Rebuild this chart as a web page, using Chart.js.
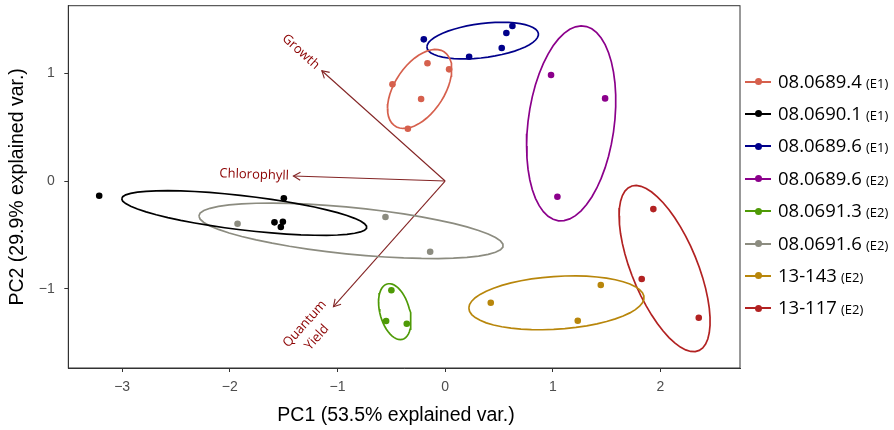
<!DOCTYPE html>
<html><head><meta charset="utf-8">
<script src="https://cdn.jsdelivr.net/npm/chart.js@4.4.1/dist/chart.umd.min.js"></script>
<style>
html,body{margin:0;padding:0;background:#fff;overflow:hidden}
#wrap{position:relative;width:894px;height:430px}
#c{position:absolute;left:0;top:0}
.item{position:absolute;left:745px;height:24px;display:flex;align-items:center;white-space:nowrap}
.sw{position:relative;width:26px;height:24px;flex:none}
.sw .ln{position:absolute;left:0;top:11px;width:26px;height:2px}
.sw .dt{position:absolute;left:9.5px;top:8.5px;width:7px;height:7px;border-radius:50%}
.lbl{margin-left:7px;font-family:'Open Sans',sans-serif;line-height:24px;color:#000}
.lbl .m{font-size:18.5px}
.lbl .s{font-size:13px}
</style></head><body>
<div id="wrap"><canvas id="c" width="894" height="430"></canvas><div id="legend"></div></div>
<script>
// ---- data ----
const groupNames = ['08.0689.4','08.0690.1','08.0689.6','08.0689.6','08.0691.3','08.0691.6','13-143','13-117'];
const groupTags  = ['(E1)','(E1)','(E1)','(E2)','(E2)','(E2)','(E2)','(E2)'];
const groupColors = ['#D6604D','#000000','#00008B','#8B008B','#4E9A06','#8C8C80','#B8860B','#B22222'];

const pc1_08_0689_4_E1 = [-0.164, 0.037, -0.489, -0.223, -0.346];
const pc2_08_0689_4_E1 = [1.091, 1.035, 0.896, 0.760, 0.485];
const pc1_08_0690_1_E1 = [-3.213, -1.498, -1.585, -1.507, -1.526];
const pc2_08_0690_1_E1 = [-0.136, -0.160, -0.383, -0.377, -0.426];
const pc1_08_0689_6_E1 = [-0.198, 0.625, 0.569, 0.526, 0.223];
const pc2_08_0689_6_E1 = [1.313, 1.437, 1.372, 1.233, 1.152];
const pc1_08_0689_6_E2 = [0.984, 1.486, 1.043];
const pc2_08_0689_6_E2 = [0.982, 0.766, -0.146];
const pc1_08_0691_3_E2 = [-0.499, -0.548, -0.356];
const pc2_08_0691_3_E2 = [-1.013, -1.297, -1.323];
const pc1_08_0691_6_E2 = [-1.928, -0.554, -0.139];
const pc2_08_0691_6_E2 = [-0.396, -0.334, -0.655];
const pc1_13_143_E2 = [0.424, 1.446, 1.232];
const pc2_13_143_E2 = [-1.128, -0.964, -1.295];
const pc1_13_117_E2 = [1.934, 1.826, 2.356];
const pc2_13_117_E2 = [-0.260, -0.908, -1.267];

const groupPC1 = [pc1_08_0689_4_E1, pc1_08_0690_1_E1, pc1_08_0689_6_E1, pc1_08_0689_6_E2, pc1_08_0691_3_E2, pc1_08_0691_6_E2, pc1_13_143_E2, pc1_13_117_E2];
const groupPC2 = [pc2_08_0689_4_E1, pc2_08_0690_1_E1, pc2_08_0689_6_E1, pc2_08_0689_6_E2, pc2_08_0691_3_E2, pc2_08_0691_6_E2, pc2_13_143_E2, pc2_13_117_E2];

// variable loadings (arrow tips)
const varNames = ['Growth', 'Chlorophyll', 'Quantum\nYield'];
const varPC1 = [-1.145, -1.409, -1.037];
const varPC2 = [1.022, 0.046, -1.165];

const xTicks = [-3, -2, -1, 0, 1, 2];
const yTicks = [-1, 0, 1];
const xTitle = 'PC1 (53.5% explained var.)';
const yTitle = 'PC2 (29.9% explained var.)';
const ellipseProb = 0.68;

// ---- helpers ----
function ellipsePath(xs, ys, prob) {
  const n = xs.length;
  const mx = xs.reduce((a, b) => a + b, 0) / n;
  const my = ys.reduce((a, b) => a + b, 0) / n;
  let sxx = 0, syy = 0, sxy = 0;
  for (let i = 0; i < n; i++) {
    const dx = xs[i] - mx, dy = ys[i] - my;
    sxx += dx * dx; syy += dy * dy; sxy += dx * dy;
  }
  sxx /= (n - 1); syy /= (n - 1); sxy /= (n - 1);
  const r11 = Math.sqrt(sxx), r12 = sxy / r11, r22 = Math.sqrt(Math.max(syy - r12 * r12, 0));
  const ed = Math.sqrt(-2 * Math.log(1 - prob));
  const pts = [];
  for (let k = 0; k < 50; k++) {
    const t = -Math.PI + 2 * Math.PI * k / 49;
    const c = Math.cos(t), s = Math.sin(t);
    pts.push({ x: mx + ed * c * r11, y: my + ed * (c * r12 + s * r22) });
  }
  return pts;
}
const fmt = v => (v < 0 ? '\u2212' + Math.abs(v) : String(v));

// ---- datasets ----
const datasets = [];
groupNames.forEach((g, i) => {
  datasets.push({
    label: g + ' ellipse', data: ellipsePath(groupPC1[i], groupPC2[i], ellipseProb),
    showLine: true, pointRadius: 0, borderColor: groupColors[i], borderWidth: 1.7, tension: 0, fill: false
  });
});
groupNames.forEach((g, i) => {
  datasets.push({
    label: g + ' ' + groupTags[i], data: groupPC1[i].map((x, k) => ({ x, y: groupPC2[i][k] })),
    showLine: false, pointRadius: 3.3, pointBackgroundColor: groupColors[i], pointBorderWidth: 0,
    borderColor: groupColors[i]
  });
});
varNames.forEach((v, i) => {
  datasets.push({
    label: v, data: [{ x: 0, y: 0 }, { x: varPC1[i], y: varPC2[i] }],
    showLine: true, pointRadius: 0, borderColor: '#832424', borderWidth: 1.1, fill: false, tension: 0
  });
});

// label placement style (pixel offsets along/perpendicular to arrow)
const labelStyle = [
  { align: 'right', lines: [{ u: -5.7, v: 0 }] },
  { align: 'right', lines: [{ u: -4.6, v: 0 }] },
  { align: 'center', lines: [{ u: -32, v: -10 }, { u: -34, v: 8 }] }
];

const overlay = {
  id: 'overlay',
  afterDatasetsDraw(chart) {
    const { ctx, scales: { x, y } } = chart;
    const ox = x.getPixelForValue(0), oy = y.getPixelForValue(0);
    ctx.save();
    varNames.forEach((name, i) => {
      const tx = x.getPixelForValue(varPC1[i]), ty = y.getPixelForValue(varPC2[i]);
      const a = Math.atan2(ty - oy, tx - ox);
      const L = 8, h = Math.PI / 6;
      ctx.strokeStyle = '#832424'; ctx.lineWidth = 1.1;
      ctx.beginPath();
      ctx.moveTo(tx - L * Math.cos(a - h), ty - L * Math.sin(a - h));
      ctx.lineTo(tx, ty);
      ctx.lineTo(tx - L * Math.cos(a + h), ty - L * Math.sin(a + h));
      ctx.stroke();
      const d = Math.hypot(ox - tx, oy - ty);
      const ux = (ox - tx) / d, uy = (oy - ty) / d;
      const vx = -uy, vy = ux;
      const rot = Math.atan2(uy, ux);
      const parts = name.split('\n');
      ctx.fillStyle = '#8B0000';
      ctx.font = '13px "Open Sans"';
      ctx.textBaseline = 'middle';
      ctx.textAlign = labelStyle[i].align;
      parts.forEach((p, k) => {
        const st = labelStyle[i].lines[k];
        const px = tx + st.u * ux + st.v * vx, py = ty + st.u * uy + st.v * vy;
        ctx.save();
        ctx.translate(px, py);
        ctx.rotate(rot);
        ctx.fillText(p, 0, 0);
        ctx.restore();
      });
    });
    ctx.restore();
  },
  afterDraw(chart) {
    const { ctx, chartArea: a } = chart;
    ctx.save();
    ctx.strokeStyle = '#333';
    ctx.lineWidth = 1;
    ctx.strokeRect(a.left, a.top, a.right - a.left, a.bottom - a.top);
    // x axis title
    ctx.fillStyle = '#000';
    ctx.font = '19.5px "Liberation Sans"';
    ctx.textAlign = 'center';
    ctx.textBaseline = 'middle';
    ctx.fillText(xTitle, 396, 416);
    ctx.restore();
  }
};

new Chart(document.getElementById('c'), {
  type: 'scatter',
  data: { datasets },
  options: {
    responsive: false, animation: false, events: [],
    layout: { padding: { left: 0, right: 154, top: 5.7, bottom: 0 } },
    plugins: { legend: { display: false }, tooltip: { enabled: false } },
    scales: {
      x: {
        type: 'linear', position: 'bottom', min: -3.5, max: 2.739,
        afterBuildTicks: s => { s.ticks = xTicks.map(v => ({ value: v })); },
        afterFit: s => { s.height = 62; s.paddingLeft = 0; s.paddingRight = 0; },
        ticks: { autoSkip: false, maxRotation: 0, font: { family: 'Liberation Sans', size: 14 }, color: '#4d4d4d', padding: 7, callback: v => fmt(v) },
        grid: { drawOnChartArea: false, drawTicks: true, tickLength: 4, color: '#333' },
        border: { display: true, color: '#333', width: 1 },
        title: { display: false }
      },
      y: {
        type: 'linear', position: 'left', min: -1.733, max: 1.625,
        afterBuildTicks: s => { s.ticks = yTicks.map(v => ({ value: v })); },
        afterFit: s => { s.width = 68.3; s.paddingTop = 0; s.paddingBottom = 0; },
        ticks: { autoSkip: false, font: { family: 'Liberation Sans', size: 14 }, color: '#4d4d4d', padding: 9.5, callback: v => fmt(v) },
        grid: { drawOnChartArea: false, drawTicks: true, tickLength: 4, color: '#333' },
        border: { display: true, color: '#333', width: 1 },
        title: { display: true, text: yTitle, font: { family: 'Liberation Sans', size: 19.5 }, color: '#000', padding: { top: 6, bottom: 0 } }
      }
    }
  },
  plugins: [overlay]
});

// ---- HTML legend ----
const leg = document.getElementById('legend');
groupNames.forEach((g, i) => {
  const cy = 81.5 + i * 32.4;
  const it = document.createElement('div');
  it.className = 'item';
  it.style.top = (cy - 12) + 'px';
  it.innerHTML = '<span class="sw"><span class="ln" style="background:' + groupColors[i] + '"></span><span class="dt" style="background:' + groupColors[i] + '"></span></span>' +
    '<span class="lbl"><span class="m">' + g + '</span> <span class="s">' + groupTags[i] + '</span></span>';
  leg.appendChild(it);
});
</script>
</body></html>
